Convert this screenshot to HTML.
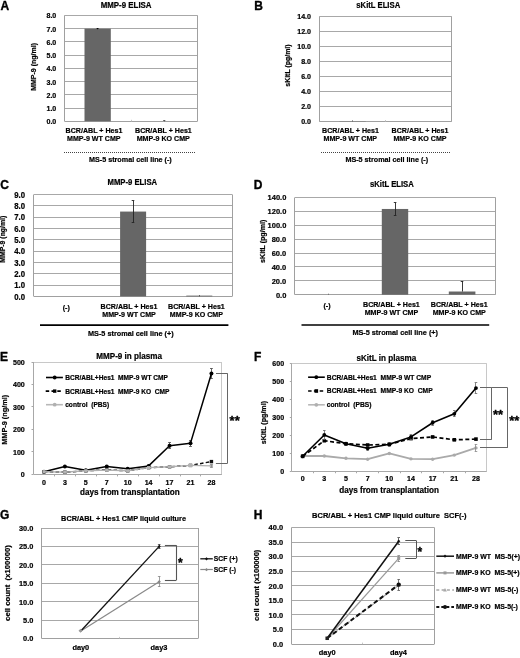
<!DOCTYPE html>
<html><head><meta charset="utf-8"><style>html,body{margin:0;padding:0;background:#fff;width:520px;height:658px;overflow:hidden}</style></head>
<body>
<svg width="520" height="658" viewBox="0 0 520 658" style="display:block;filter:blur(0.35px)">
<g font-family='"Liberation Sans", sans-serif' stroke-linejoin="round">
<rect width="520" height="658" fill="#fff"/>
<text transform="translate(0.60 9.70)" font-size="12" text-anchor="start" font-weight="bold" fill="#000" stroke="#000" stroke-width="0.35" xml:space="preserve">A</text>
<text transform="translate(56.30 124.25) scale(1 1.08)" font-size="7.1" text-anchor="end" font-weight="bold" fill="#000" stroke="#000" stroke-width="0.2" xml:space="preserve">0.0</text>
<line x1="64.50" y1="108.50" x2="197.50" y2="108.50" stroke="#a8a8a8" stroke-width="1.15" stroke-linecap="butt"/>
<text transform="translate(56.30 111.01) scale(1 1.08)" font-size="7.1" text-anchor="end" font-weight="bold" fill="#000" stroke="#000" stroke-width="0.2" xml:space="preserve">1.0</text>
<line x1="64.50" y1="94.50" x2="197.50" y2="94.50" stroke="#a8a8a8" stroke-width="1.15" stroke-linecap="butt"/>
<text transform="translate(56.30 97.78) scale(1 1.08)" font-size="7.1" text-anchor="end" font-weight="bold" fill="#000" stroke="#000" stroke-width="0.2" xml:space="preserve">2.0</text>
<line x1="64.50" y1="81.50" x2="197.50" y2="81.50" stroke="#a8a8a8" stroke-width="1.15" stroke-linecap="butt"/>
<text transform="translate(56.30 84.54) scale(1 1.08)" font-size="7.1" text-anchor="end" font-weight="bold" fill="#000" stroke="#000" stroke-width="0.2" xml:space="preserve">3.0</text>
<line x1="64.50" y1="68.50" x2="197.50" y2="68.50" stroke="#a8a8a8" stroke-width="1.15" stroke-linecap="butt"/>
<text transform="translate(56.30 71.30) scale(1 1.08)" font-size="7.1" text-anchor="end" font-weight="bold" fill="#000" stroke="#000" stroke-width="0.2" xml:space="preserve">4.0</text>
<line x1="64.50" y1="55.50" x2="197.50" y2="55.50" stroke="#a8a8a8" stroke-width="1.15" stroke-linecap="butt"/>
<text transform="translate(56.30 58.06) scale(1 1.08)" font-size="7.1" text-anchor="end" font-weight="bold" fill="#000" stroke="#000" stroke-width="0.2" xml:space="preserve">5.0</text>
<line x1="64.50" y1="41.50" x2="197.50" y2="41.50" stroke="#a8a8a8" stroke-width="1.15" stroke-linecap="butt"/>
<text transform="translate(56.30 44.83) scale(1 1.08)" font-size="7.1" text-anchor="end" font-weight="bold" fill="#000" stroke="#000" stroke-width="0.2" xml:space="preserve">6.0</text>
<line x1="64.50" y1="28.50" x2="197.50" y2="28.50" stroke="#a8a8a8" stroke-width="1.15" stroke-linecap="butt"/>
<text transform="translate(56.30 31.59) scale(1 1.08)" font-size="7.1" text-anchor="end" font-weight="bold" fill="#000" stroke="#000" stroke-width="0.2" xml:space="preserve">7.0</text>
<line x1="64.50" y1="15.50" x2="197.50" y2="15.50" stroke="#a8a8a8" stroke-width="1.15" stroke-linecap="butt"/>
<text transform="translate(56.30 18.35) scale(1 1.08)" font-size="7.1" text-anchor="end" font-weight="bold" fill="#000" stroke="#000" stroke-width="0.2" xml:space="preserve">8.0</text>
<line x1="64.50" y1="15.40" x2="64.50" y2="121.30" stroke="#a0a0a0" stroke-width="1" stroke-linecap="butt"/>
<line x1="197.50" y1="15.40" x2="197.50" y2="121.30" stroke="#a0a0a0" stroke-width="1" stroke-linecap="butt"/>
<line x1="64.50" y1="121.50" x2="197.50" y2="121.50" stroke="#a0a0a0" stroke-width="1" stroke-linecap="butt"/>
<line x1="131.50" y1="119.80" x2="131.50" y2="121.30" stroke="#c8c8c8" stroke-width="1" stroke-linecap="butt"/>
<text transform="translate(126.10 7.50) scale(1 1.08)" font-size="7.9" text-anchor="middle" font-weight="bold" fill="#000" stroke="#000" stroke-width="0.2" xml:space="preserve">MMP-9 ELISA</text>
<rect x="84.50" y="28.64" width="26.30" height="92.66" fill="#666666" stroke="none" stroke-width="1"/>
<line x1="97.50" y1="28.04" x2="97.50" y2="29.24" stroke="#000" stroke-width="0.8" stroke-linecap="butt"/>
<line x1="96.60" y1="28.50" x2="98.60" y2="28.50" stroke="#000" stroke-width="0.8" stroke-linecap="butt"/>
<line x1="164.50" y1="120.30" x2="164.50" y2="121.30" stroke="#444" stroke-width="0.9" stroke-linecap="butt"/>
<line x1="163.00" y1="120.50" x2="165.40" y2="120.50" stroke="#444" stroke-width="0.7" stroke-linecap="butt"/>
<text transform="translate(35.60 66.90) rotate(-90)" font-size="7.0" text-anchor="middle" font-weight="bold" fill="#000" stroke="#000" stroke-width="0.2" xml:space="preserve">MMP-9 (ng/ml)</text>
<text transform="translate(94.00 132.60) scale(1 1.08)" font-size="7.1" text-anchor="middle" font-weight="bold" fill="#000" stroke="#000" stroke-width="0.2" xml:space="preserve">BCR/ABL + Hes1</text>
<text transform="translate(93.80 141.10) scale(1 1.08)" font-size="7.1" text-anchor="middle" font-weight="bold" fill="#000" stroke="#000" stroke-width="0.2" xml:space="preserve">MMP-9 WT CMP</text>
<text transform="translate(163.40 132.60) scale(1 1.08)" font-size="7.1" text-anchor="middle" font-weight="bold" fill="#000" stroke="#000" stroke-width="0.2" xml:space="preserve">BCR/ABL + Hes1</text>
<text transform="translate(163.20 141.10) scale(1 1.08)" font-size="7.1" text-anchor="middle" font-weight="bold" fill="#000" stroke="#000" stroke-width="0.2" xml:space="preserve">MMP-9 KO CMP</text>
<line x1="64.00" y1="152.50" x2="195.00" y2="152.50" stroke="#444" stroke-width="1" stroke-dasharray="1,1" stroke-linecap="butt"/>
<text transform="translate(89.00 162.20) scale(1 1.08)" font-size="7.2" text-anchor="start" font-weight="bold" fill="#000" stroke="#000" stroke-width="0.2" xml:space="preserve">MS-5 stromal cell line (-)</text>
<text transform="translate(254.30 9.70)" font-size="12" text-anchor="start" font-weight="bold" fill="#000" stroke="#000" stroke-width="0.35" xml:space="preserve">B</text>
<text transform="translate(311.00 124.45) scale(1 1.08)" font-size="7.1" text-anchor="end" font-weight="bold" fill="#000" stroke="#000" stroke-width="0.2" xml:space="preserve">0.0</text>
<line x1="319.25" y1="106.50" x2="451.75" y2="106.50" stroke="#a8a8a8" stroke-width="1.15" stroke-linecap="butt"/>
<text transform="translate(311.00 109.45) scale(1 1.08)" font-size="7.1" text-anchor="end" font-weight="bold" fill="#000" stroke="#000" stroke-width="0.2" xml:space="preserve">2.0</text>
<line x1="319.25" y1="91.50" x2="451.75" y2="91.50" stroke="#a8a8a8" stroke-width="1.15" stroke-linecap="butt"/>
<text transform="translate(311.00 94.45) scale(1 1.08)" font-size="7.1" text-anchor="end" font-weight="bold" fill="#000" stroke="#000" stroke-width="0.2" xml:space="preserve">4.0</text>
<line x1="319.25" y1="76.50" x2="451.75" y2="76.50" stroke="#a8a8a8" stroke-width="1.15" stroke-linecap="butt"/>
<text transform="translate(311.00 79.45) scale(1 1.08)" font-size="7.1" text-anchor="end" font-weight="bold" fill="#000" stroke="#000" stroke-width="0.2" xml:space="preserve">6.0</text>
<line x1="319.25" y1="61.50" x2="451.75" y2="61.50" stroke="#a8a8a8" stroke-width="1.15" stroke-linecap="butt"/>
<text transform="translate(311.00 64.45) scale(1 1.08)" font-size="7.1" text-anchor="end" font-weight="bold" fill="#000" stroke="#000" stroke-width="0.2" xml:space="preserve">8.0</text>
<line x1="319.25" y1="46.50" x2="451.75" y2="46.50" stroke="#a8a8a8" stroke-width="1.15" stroke-linecap="butt"/>
<text transform="translate(311.00 49.45) scale(1 1.08)" font-size="7.1" text-anchor="end" font-weight="bold" fill="#000" stroke="#000" stroke-width="0.2" xml:space="preserve">10.0</text>
<line x1="319.25" y1="31.50" x2="451.75" y2="31.50" stroke="#a8a8a8" stroke-width="1.15" stroke-linecap="butt"/>
<text transform="translate(311.00 34.45) scale(1 1.08)" font-size="7.1" text-anchor="end" font-weight="bold" fill="#000" stroke="#000" stroke-width="0.2" xml:space="preserve">12.0</text>
<line x1="319.25" y1="16.50" x2="451.75" y2="16.50" stroke="#a8a8a8" stroke-width="1.15" stroke-linecap="butt"/>
<text transform="translate(311.00 19.45) scale(1 1.08)" font-size="7.1" text-anchor="end" font-weight="bold" fill="#000" stroke="#000" stroke-width="0.2" xml:space="preserve">14.0</text>
<line x1="319.50" y1="16.50" x2="319.50" y2="121.50" stroke="#a0a0a0" stroke-width="1" stroke-linecap="butt"/>
<line x1="451.50" y1="16.50" x2="451.50" y2="121.50" stroke="#a0a0a0" stroke-width="1" stroke-linecap="butt"/>
<line x1="319.25" y1="121.50" x2="451.75" y2="121.50" stroke="#a0a0a0" stroke-width="1" stroke-linecap="butt"/>
<line x1="385.50" y1="120.00" x2="385.50" y2="121.50" stroke="#c8c8c8" stroke-width="1" stroke-linecap="butt"/>
<text transform="translate(378.25 8.00) scale(1 1.08)" font-size="7.7" text-anchor="middle" font-weight="bold" fill="#000" stroke="#000" stroke-width="0.2" xml:space="preserve">sKitL ELISA</text>
<rect x="339.50" y="121.20" width="26.30" height="0.30" fill="#666666" stroke="none" stroke-width="1"/>
<line x1="352.50" y1="120.30" x2="352.50" y2="121.50" stroke="#555" stroke-width="0.8" stroke-linecap="butt"/>
<text transform="translate(289.50 65.60) rotate(-90)" font-size="6.95" text-anchor="middle" font-weight="bold" fill="#000" stroke="#000" stroke-width="0.2" xml:space="preserve">sKitL (pg/ml)</text>
<text transform="translate(350.50 132.60) scale(1 1.08)" font-size="7.1" text-anchor="middle" font-weight="bold" fill="#000" stroke="#000" stroke-width="0.2" xml:space="preserve">BCR/ABL + Hes1</text>
<text transform="translate(350.30 141.20) scale(1 1.08)" font-size="7.1" text-anchor="middle" font-weight="bold" fill="#000" stroke="#000" stroke-width="0.2" xml:space="preserve">MMP-9 WT CMP</text>
<text transform="translate(420.00 132.60) scale(1 1.08)" font-size="7.1" text-anchor="middle" font-weight="bold" fill="#000" stroke="#000" stroke-width="0.2" xml:space="preserve">BCR/ABL + Hes1</text>
<text transform="translate(420.00 141.20) scale(1 1.08)" font-size="7.1" text-anchor="middle" font-weight="bold" fill="#000" stroke="#000" stroke-width="0.2" xml:space="preserve">MMP-9 KO CMP</text>
<line x1="321.00" y1="152.50" x2="450.50" y2="152.50" stroke="#444" stroke-width="1" stroke-dasharray="1,1" stroke-linecap="butt"/>
<text transform="translate(345.40 162.40) scale(1 1.08)" font-size="7.2" text-anchor="start" font-weight="bold" fill="#000" stroke="#000" stroke-width="0.2" xml:space="preserve">MS-5 stromal cell line (-)</text>
<text transform="translate(0.20 189.30)" font-size="12" text-anchor="start" font-weight="bold" fill="#000" stroke="#000" stroke-width="0.35" xml:space="preserve">C</text>
<text transform="translate(25.00 299.50) scale(1 1.08)" font-size="7.8" text-anchor="end" font-weight="bold" fill="#000" stroke="#000" stroke-width="0.2" xml:space="preserve">0.0</text>
<line x1="33.80" y1="285.50" x2="232.30" y2="285.50" stroke="#a8a8a8" stroke-width="1.15" stroke-linecap="butt"/>
<text transform="translate(25.00 288.19) scale(1 1.08)" font-size="7.8" text-anchor="end" font-weight="bold" fill="#000" stroke="#000" stroke-width="0.2" xml:space="preserve">1.0</text>
<line x1="33.80" y1="273.50" x2="232.30" y2="273.50" stroke="#a8a8a8" stroke-width="1.15" stroke-linecap="butt"/>
<text transform="translate(25.00 276.88) scale(1 1.08)" font-size="7.8" text-anchor="end" font-weight="bold" fill="#000" stroke="#000" stroke-width="0.2" xml:space="preserve">2.0</text>
<line x1="33.80" y1="262.50" x2="232.30" y2="262.50" stroke="#a8a8a8" stroke-width="1.15" stroke-linecap="butt"/>
<text transform="translate(25.00 265.57) scale(1 1.08)" font-size="7.8" text-anchor="end" font-weight="bold" fill="#000" stroke="#000" stroke-width="0.2" xml:space="preserve">3.0</text>
<line x1="33.80" y1="251.50" x2="232.30" y2="251.50" stroke="#a8a8a8" stroke-width="1.15" stroke-linecap="butt"/>
<text transform="translate(25.00 254.26) scale(1 1.08)" font-size="7.8" text-anchor="end" font-weight="bold" fill="#000" stroke="#000" stroke-width="0.2" xml:space="preserve">4.0</text>
<line x1="33.80" y1="239.50" x2="232.30" y2="239.50" stroke="#a8a8a8" stroke-width="1.15" stroke-linecap="butt"/>
<text transform="translate(25.00 242.94) scale(1 1.08)" font-size="7.8" text-anchor="end" font-weight="bold" fill="#000" stroke="#000" stroke-width="0.2" xml:space="preserve">5.0</text>
<line x1="33.80" y1="228.50" x2="232.30" y2="228.50" stroke="#a8a8a8" stroke-width="1.15" stroke-linecap="butt"/>
<text transform="translate(25.00 231.63) scale(1 1.08)" font-size="7.8" text-anchor="end" font-weight="bold" fill="#000" stroke="#000" stroke-width="0.2" xml:space="preserve">6.0</text>
<line x1="33.80" y1="217.50" x2="232.30" y2="217.50" stroke="#a8a8a8" stroke-width="1.15" stroke-linecap="butt"/>
<text transform="translate(25.00 220.32) scale(1 1.08)" font-size="7.8" text-anchor="end" font-weight="bold" fill="#000" stroke="#000" stroke-width="0.2" xml:space="preserve">7.0</text>
<line x1="33.80" y1="205.50" x2="232.30" y2="205.50" stroke="#a8a8a8" stroke-width="1.15" stroke-linecap="butt"/>
<text transform="translate(25.00 209.01) scale(1 1.08)" font-size="7.8" text-anchor="end" font-weight="bold" fill="#000" stroke="#000" stroke-width="0.2" xml:space="preserve">8.0</text>
<line x1="33.80" y1="194.50" x2="232.30" y2="194.50" stroke="#a8a8a8" stroke-width="1.15" stroke-linecap="butt"/>
<text transform="translate(25.00 197.70) scale(1 1.08)" font-size="7.8" text-anchor="end" font-weight="bold" fill="#000" stroke="#000" stroke-width="0.2" xml:space="preserve">9.0</text>
<line x1="33.50" y1="194.60" x2="33.50" y2="296.40" stroke="#a0a0a0" stroke-width="1" stroke-linecap="butt"/>
<line x1="232.50" y1="194.60" x2="232.50" y2="296.40" stroke="#a0a0a0" stroke-width="1" stroke-linecap="butt"/>
<line x1="33.80" y1="296.50" x2="232.30" y2="296.50" stroke="#a0a0a0" stroke-width="1" stroke-linecap="butt"/>
<text transform="translate(132.30 185.40) scale(1 1.08)" font-size="7.7" text-anchor="middle" font-weight="bold" fill="#000" stroke="#000" stroke-width="0.2" xml:space="preserve">MMP-9 ELISA</text>
<rect x="120.10" y="211.57" width="26.00" height="84.83" fill="#666666" stroke="none" stroke-width="1"/>
<line x1="133.50" y1="200.93" x2="133.50" y2="222.20" stroke="#222" stroke-width="0.9" stroke-linecap="butt"/>
<line x1="131.70" y1="200.50" x2="134.30" y2="200.50" stroke="#222" stroke-width="0.9" stroke-linecap="butt"/>
<line x1="131.70" y1="222.50" x2="134.30" y2="222.50" stroke="#222" stroke-width="0.9" stroke-linecap="butt"/>
<rect x="186.30" y="295.61" width="26.00" height="0.79" fill="#666666" stroke="none" stroke-width="1"/>
<line x1="199.50" y1="295.04" x2="199.50" y2="296.40" stroke="#444" stroke-width="0.8" stroke-linecap="butt"/>
<text transform="translate(5.40 239.20) rotate(-90)" font-size="6.9" text-anchor="middle" font-weight="bold" fill="#000" stroke="#000" stroke-width="0.2" xml:space="preserve">MMP-9 (ng/ml)</text>
<text transform="translate(66.30 310.10) scale(1 1.08)" font-size="7.1" text-anchor="middle" font-weight="bold" fill="#000" stroke="#000" stroke-width="0.2" xml:space="preserve">(-)</text>
<text transform="translate(129.00 308.70) scale(1 1.08)" font-size="7.1" text-anchor="middle" font-weight="bold" fill="#000" stroke="#000" stroke-width="0.2" xml:space="preserve">BCR/ABL + Hes1</text>
<text transform="translate(129.00 317.00) scale(1 1.08)" font-size="7.1" text-anchor="middle" font-weight="bold" fill="#000" stroke="#000" stroke-width="0.2" xml:space="preserve">MMP-9 WT CMP</text>
<text transform="translate(196.40 308.70) scale(1 1.08)" font-size="7.1" text-anchor="middle" font-weight="bold" fill="#000" stroke="#000" stroke-width="0.2" xml:space="preserve">BCR/ABL + Hes1</text>
<text transform="translate(196.40 317.00) scale(1 1.08)" font-size="7.1" text-anchor="middle" font-weight="bold" fill="#000" stroke="#000" stroke-width="0.2" xml:space="preserve">MMP-9 KO CMP</text>
<line x1="40.00" y1="325.20" x2="228.40" y2="325.20" stroke="#000" stroke-width="1.7" stroke-linecap="butt"/>
<text transform="translate(88.00 335.60) scale(1 1.08)" font-size="7.3" text-anchor="start" font-weight="bold" fill="#000" stroke="#000" stroke-width="0.2" xml:space="preserve">MS-5 stromal cell line (+)</text>
<text transform="translate(253.80 189.30)" font-size="12" text-anchor="start" font-weight="bold" fill="#000" stroke="#000" stroke-width="0.35" xml:space="preserve">D</text>
<text transform="translate(286.30 297.50) scale(1 1.08)" font-size="7.5" text-anchor="end" font-weight="bold" fill="#000" stroke="#000" stroke-width="0.2" xml:space="preserve">0.0</text>
<line x1="294.90" y1="280.50" x2="495.60" y2="280.50" stroke="#a8a8a8" stroke-width="1.15" stroke-linecap="butt"/>
<text transform="translate(286.30 283.61) scale(1 1.08)" font-size="7.5" text-anchor="end" font-weight="bold" fill="#000" stroke="#000" stroke-width="0.2" xml:space="preserve">20.0</text>
<line x1="294.90" y1="266.50" x2="495.60" y2="266.50" stroke="#a8a8a8" stroke-width="1.15" stroke-linecap="butt"/>
<text transform="translate(286.30 269.73) scale(1 1.08)" font-size="7.5" text-anchor="end" font-weight="bold" fill="#000" stroke="#000" stroke-width="0.2" xml:space="preserve">40.0</text>
<line x1="294.90" y1="253.50" x2="495.60" y2="253.50" stroke="#a8a8a8" stroke-width="1.15" stroke-linecap="butt"/>
<text transform="translate(286.30 255.84) scale(1 1.08)" font-size="7.5" text-anchor="end" font-weight="bold" fill="#000" stroke="#000" stroke-width="0.2" xml:space="preserve">60.0</text>
<line x1="294.90" y1="239.50" x2="495.60" y2="239.50" stroke="#a8a8a8" stroke-width="1.15" stroke-linecap="butt"/>
<text transform="translate(286.30 241.96) scale(1 1.08)" font-size="7.5" text-anchor="end" font-weight="bold" fill="#000" stroke="#000" stroke-width="0.2" xml:space="preserve">80.0</text>
<line x1="294.90" y1="225.50" x2="495.60" y2="225.50" stroke="#a8a8a8" stroke-width="1.15" stroke-linecap="butt"/>
<text transform="translate(286.30 228.07) scale(1 1.08)" font-size="7.5" text-anchor="end" font-weight="bold" fill="#000" stroke="#000" stroke-width="0.2" xml:space="preserve">100.0</text>
<line x1="294.90" y1="211.50" x2="495.60" y2="211.50" stroke="#a8a8a8" stroke-width="1.15" stroke-linecap="butt"/>
<text transform="translate(286.30 214.19) scale(1 1.08)" font-size="7.5" text-anchor="end" font-weight="bold" fill="#000" stroke="#000" stroke-width="0.2" xml:space="preserve">120.0</text>
<line x1="294.90" y1="197.50" x2="495.60" y2="197.50" stroke="#a8a8a8" stroke-width="1.15" stroke-linecap="butt"/>
<text transform="translate(286.30 200.30) scale(1 1.08)" font-size="7.5" text-anchor="end" font-weight="bold" fill="#000" stroke="#000" stroke-width="0.2" xml:space="preserve">140.0</text>
<line x1="294.50" y1="197.50" x2="294.50" y2="294.70" stroke="#a0a0a0" stroke-width="1" stroke-linecap="butt"/>
<line x1="495.50" y1="197.50" x2="495.50" y2="294.70" stroke="#a0a0a0" stroke-width="1" stroke-linecap="butt"/>
<line x1="294.90" y1="294.50" x2="495.60" y2="294.50" stroke="#a0a0a0" stroke-width="1" stroke-linecap="butt"/>
<text transform="translate(391.85 186.90) scale(1 1.08)" font-size="7.7" text-anchor="middle" font-weight="bold" fill="#000" stroke="#000" stroke-width="0.2" xml:space="preserve">sKitL ELISA</text>
<rect x="381.80" y="208.96" width="26.40" height="85.74" fill="#666666" stroke="none" stroke-width="1"/>
<line x1="395.50" y1="202.71" x2="395.50" y2="215.20" stroke="#222" stroke-width="0.9" stroke-linecap="butt"/>
<line x1="393.80" y1="202.50" x2="396.40" y2="202.50" stroke="#222" stroke-width="0.9" stroke-linecap="butt"/>
<line x1="393.80" y1="215.50" x2="396.40" y2="215.50" stroke="#222" stroke-width="0.9" stroke-linecap="butt"/>
<rect x="448.80" y="291.51" width="26.60" height="3.19" fill="#666666" stroke="none" stroke-width="1"/>
<line x1="462.50" y1="281.02" x2="462.50" y2="291.51" stroke="#222" stroke-width="0.9" stroke-linecap="butt"/>
<line x1="460.70" y1="281.50" x2="463.30" y2="281.50" stroke="#222" stroke-width="0.9" stroke-linecap="butt"/>
<line x1="328.50" y1="293.70" x2="328.50" y2="294.70" stroke="#555" stroke-width="0.8" stroke-linecap="butt"/>
<text transform="translate(264.90 241.30) rotate(-90)" font-size="7.1" text-anchor="middle" font-weight="bold" fill="#000" stroke="#000" stroke-width="0.2" xml:space="preserve">sKitL (pg/ml)</text>
<text transform="translate(327.00 308.30) scale(1 1.08)" font-size="7.1" text-anchor="middle" font-weight="bold" fill="#000" stroke="#000" stroke-width="0.2" xml:space="preserve">(-)</text>
<text transform="translate(391.40 306.90) scale(1 1.08)" font-size="7.1" text-anchor="middle" font-weight="bold" fill="#000" stroke="#000" stroke-width="0.2" xml:space="preserve">BCR/ABL + Hes1</text>
<text transform="translate(391.40 315.40) scale(1 1.08)" font-size="7.1" text-anchor="middle" font-weight="bold" fill="#000" stroke="#000" stroke-width="0.2" xml:space="preserve">MMP-9 WT CMP</text>
<text transform="translate(459.20 306.90) scale(1 1.08)" font-size="7.1" text-anchor="middle" font-weight="bold" fill="#000" stroke="#000" stroke-width="0.2" xml:space="preserve">BCR/ABL + Hes1</text>
<text transform="translate(459.20 315.40) scale(1 1.08)" font-size="7.1" text-anchor="middle" font-weight="bold" fill="#000" stroke="#000" stroke-width="0.2" xml:space="preserve">MMP-9 KO CMP</text>
<line x1="301.50" y1="325.00" x2="489.20" y2="325.00" stroke="#000" stroke-width="1.7" stroke-linecap="butt"/>
<text transform="translate(352.40 335.30) scale(1 1.08)" font-size="7.3" text-anchor="start" font-weight="bold" fill="#000" stroke="#000" stroke-width="0.2" xml:space="preserve">MS-5 stromal cell line (+)</text>
<text transform="translate(0.00 361.20)" font-size="12" text-anchor="start" font-weight="bold" fill="#000" stroke="#000" stroke-width="0.35" xml:space="preserve">E</text>
<line x1="33.50" y1="362.50" x2="221.90" y2="362.50" stroke="#c8c8c8" stroke-width="1" stroke-linecap="butt"/>
<line x1="221.50" y1="362.00" x2="221.50" y2="474.40" stroke="#c8c8c8" stroke-width="1" stroke-linecap="butt"/>
<line x1="33.50" y1="362.00" x2="33.50" y2="474.40" stroke="#a8a8a8" stroke-width="1" stroke-linecap="butt"/>
<line x1="33.50" y1="474.50" x2="221.90" y2="474.50" stroke="#a8a8a8" stroke-width="1" stroke-linecap="butt"/>
<line x1="31.50" y1="474.50" x2="33.50" y2="474.50" stroke="#a8a8a8" stroke-width="1" stroke-linecap="butt"/>
<text transform="translate(24.80 477.35) scale(1 1.08)" font-size="7.1" text-anchor="end" font-weight="bold" fill="#000" stroke="#000" stroke-width="0.2" xml:space="preserve">0</text>
<line x1="31.50" y1="451.50" x2="33.50" y2="451.50" stroke="#a8a8a8" stroke-width="1" stroke-linecap="butt"/>
<text transform="translate(24.80 454.87) scale(1 1.08)" font-size="7.1" text-anchor="end" font-weight="bold" fill="#000" stroke="#000" stroke-width="0.2" xml:space="preserve">100</text>
<line x1="31.50" y1="429.50" x2="33.50" y2="429.50" stroke="#a8a8a8" stroke-width="1" stroke-linecap="butt"/>
<text transform="translate(24.80 432.39) scale(1 1.08)" font-size="7.1" text-anchor="end" font-weight="bold" fill="#000" stroke="#000" stroke-width="0.2" xml:space="preserve">200</text>
<line x1="31.50" y1="406.50" x2="33.50" y2="406.50" stroke="#a8a8a8" stroke-width="1" stroke-linecap="butt"/>
<text transform="translate(24.80 409.91) scale(1 1.08)" font-size="7.1" text-anchor="end" font-weight="bold" fill="#000" stroke="#000" stroke-width="0.2" xml:space="preserve">300</text>
<line x1="31.50" y1="384.50" x2="33.50" y2="384.50" stroke="#a8a8a8" stroke-width="1" stroke-linecap="butt"/>
<text transform="translate(24.80 387.43) scale(1 1.08)" font-size="7.1" text-anchor="end" font-weight="bold" fill="#000" stroke="#000" stroke-width="0.2" xml:space="preserve">400</text>
<line x1="31.50" y1="362.50" x2="33.50" y2="362.50" stroke="#a8a8a8" stroke-width="1" stroke-linecap="butt"/>
<text transform="translate(24.80 364.95) scale(1 1.08)" font-size="7.1" text-anchor="end" font-weight="bold" fill="#000" stroke="#000" stroke-width="0.2" xml:space="preserve">500</text>
<line x1="54.50" y1="474.40" x2="54.50" y2="476.40" stroke="#a8a8a8" stroke-width="1" stroke-linecap="butt"/>
<line x1="75.50" y1="474.40" x2="75.50" y2="476.40" stroke="#a8a8a8" stroke-width="1" stroke-linecap="butt"/>
<line x1="96.50" y1="474.40" x2="96.50" y2="476.40" stroke="#a8a8a8" stroke-width="1" stroke-linecap="butt"/>
<line x1="117.50" y1="474.40" x2="117.50" y2="476.40" stroke="#a8a8a8" stroke-width="1" stroke-linecap="butt"/>
<line x1="138.50" y1="474.40" x2="138.50" y2="476.40" stroke="#a8a8a8" stroke-width="1" stroke-linecap="butt"/>
<line x1="159.50" y1="474.40" x2="159.50" y2="476.40" stroke="#a8a8a8" stroke-width="1" stroke-linecap="butt"/>
<line x1="180.50" y1="474.40" x2="180.50" y2="476.40" stroke="#a8a8a8" stroke-width="1" stroke-linecap="butt"/>
<line x1="200.50" y1="474.40" x2="200.50" y2="476.40" stroke="#a8a8a8" stroke-width="1" stroke-linecap="butt"/>
<text transform="translate(43.97 485.30) scale(1 1.08)" font-size="7.1" text-anchor="middle" font-weight="bold" fill="#000" stroke="#000" stroke-width="0.2" xml:space="preserve">0</text>
<text transform="translate(64.90 485.30) scale(1 1.08)" font-size="7.1" text-anchor="middle" font-weight="bold" fill="#000" stroke="#000" stroke-width="0.2" xml:space="preserve">3</text>
<text transform="translate(85.83 485.30) scale(1 1.08)" font-size="7.1" text-anchor="middle" font-weight="bold" fill="#000" stroke="#000" stroke-width="0.2" xml:space="preserve">5</text>
<text transform="translate(106.77 485.30) scale(1 1.08)" font-size="7.1" text-anchor="middle" font-weight="bold" fill="#000" stroke="#000" stroke-width="0.2" xml:space="preserve">7</text>
<text transform="translate(127.70 485.30) scale(1 1.08)" font-size="7.1" text-anchor="middle" font-weight="bold" fill="#000" stroke="#000" stroke-width="0.2" xml:space="preserve">10</text>
<text transform="translate(148.63 485.30) scale(1 1.08)" font-size="7.1" text-anchor="middle" font-weight="bold" fill="#000" stroke="#000" stroke-width="0.2" xml:space="preserve">14</text>
<text transform="translate(169.57 485.30) scale(1 1.08)" font-size="7.1" text-anchor="middle" font-weight="bold" fill="#000" stroke="#000" stroke-width="0.2" xml:space="preserve">17</text>
<text transform="translate(190.50 485.30) scale(1 1.08)" font-size="7.1" text-anchor="middle" font-weight="bold" fill="#000" stroke="#000" stroke-width="0.2" xml:space="preserve">21</text>
<text transform="translate(211.43 485.30) scale(1 1.08)" font-size="7.1" text-anchor="middle" font-weight="bold" fill="#000" stroke="#000" stroke-width="0.2" xml:space="preserve">28</text>
<text transform="translate(80.00 495.30)" font-size="8.15" text-anchor="start" font-weight="bold" fill="#000" stroke="#000" stroke-width="0.2" xml:space="preserve">days from transplantation</text>
<text transform="translate(129.10 358.80) scale(1 1.08)" font-size="8.1" text-anchor="middle" font-weight="bold" fill="#000" stroke="#000" stroke-width="0.2" xml:space="preserve">MMP-9 in plasma</text>
<text transform="translate(6.50 419.80) rotate(-90)" font-size="7.3" text-anchor="middle" font-weight="bold" fill="#000" stroke="#000" stroke-width="0.2" xml:space="preserve">MMP-9 (ng/ml)</text>
<line x1="169.50" y1="442.70" x2="169.50" y2="448.77" stroke="#555" stroke-width="0.9" stroke-linecap="butt"/>
<line x1="168.17" y1="442.50" x2="170.97" y2="442.50" stroke="#555" stroke-width="0.9" stroke-linecap="butt"/>
<line x1="168.17" y1="448.50" x2="170.97" y2="448.50" stroke="#555" stroke-width="0.9" stroke-linecap="butt"/>
<line x1="190.50" y1="440.23" x2="190.50" y2="446.08" stroke="#555" stroke-width="0.9" stroke-linecap="butt"/>
<line x1="189.10" y1="440.50" x2="191.90" y2="440.50" stroke="#555" stroke-width="0.9" stroke-linecap="butt"/>
<line x1="189.10" y1="446.50" x2="191.90" y2="446.50" stroke="#555" stroke-width="0.9" stroke-linecap="butt"/>
<line x1="211.50" y1="368.29" x2="211.50" y2="378.64" stroke="#555" stroke-width="0.9" stroke-linecap="butt"/>
<line x1="210.03" y1="368.50" x2="212.83" y2="368.50" stroke="#555" stroke-width="0.9" stroke-linecap="butt"/>
<line x1="210.03" y1="378.50" x2="212.83" y2="378.50" stroke="#555" stroke-width="0.9" stroke-linecap="butt"/>
<polyline points="43.97,471.70 64.90,466.40 85.83,470.35 106.77,466.60 127.70,468.78 148.63,465.90 169.57,445.67 190.50,443.15 211.43,373.46" fill="none" stroke="#000" stroke-width="1.5" stroke-linejoin="round"/>
<circle cx="43.97" cy="471.70" r="2.0" fill="#000" stroke="none" stroke-width="0.8"/>
<circle cx="64.90" cy="466.40" r="2.0" fill="#000" stroke="none" stroke-width="0.8"/>
<circle cx="85.83" cy="470.35" r="2.0" fill="#000" stroke="none" stroke-width="0.8"/>
<circle cx="106.77" cy="466.60" r="2.0" fill="#000" stroke="none" stroke-width="0.8"/>
<circle cx="127.70" cy="468.78" r="2.0" fill="#000" stroke="none" stroke-width="0.8"/>
<circle cx="148.63" cy="465.90" r="2.0" fill="#000" stroke="none" stroke-width="0.8"/>
<circle cx="169.57" cy="445.67" r="2.0" fill="#000" stroke="none" stroke-width="0.8"/>
<circle cx="190.50" cy="443.15" r="2.0" fill="#000" stroke="none" stroke-width="0.8"/>
<circle cx="211.43" cy="373.46" r="2.0" fill="#000" stroke="none" stroke-width="0.8"/>
<polyline points="43.97,471.70 64.90,472.15 85.83,470.80 106.77,469.90 127.70,470.80 148.63,467.66 169.57,466.76 190.50,465.41 211.43,461.59" fill="none" stroke="#111" stroke-width="1.5" stroke-dasharray="3.5,2.3" stroke-linejoin="round"/>
<rect x="42.27" y="470.00" width="3.40" height="3.40" fill="#111" stroke="none" stroke-width="1"/>
<rect x="63.20" y="470.45" width="3.40" height="3.40" fill="#111" stroke="none" stroke-width="1"/>
<rect x="84.13" y="469.10" width="3.40" height="3.40" fill="#111" stroke="none" stroke-width="1"/>
<rect x="105.07" y="468.20" width="3.40" height="3.40" fill="#111" stroke="none" stroke-width="1"/>
<rect x="126.00" y="469.10" width="3.40" height="3.40" fill="#111" stroke="none" stroke-width="1"/>
<rect x="146.93" y="465.96" width="3.40" height="3.40" fill="#111" stroke="none" stroke-width="1"/>
<rect x="167.87" y="465.06" width="3.40" height="3.40" fill="#111" stroke="none" stroke-width="1"/>
<rect x="188.80" y="463.71" width="3.40" height="3.40" fill="#111" stroke="none" stroke-width="1"/>
<rect x="209.73" y="459.89" width="3.40" height="3.40" fill="#111" stroke="none" stroke-width="1"/>
<polyline points="43.97,471.70 64.90,472.15 85.83,470.80 106.77,470.13 127.70,470.80 148.63,467.66 169.57,466.76 190.50,465.41" fill="none" stroke="#b0b0b0" stroke-width="1.4" stroke-linejoin="round"/>
<rect x="42.37" y="470.10" width="3.20" height="3.20" fill="#b4b4b4" stroke="none" stroke-width="1"/>
<rect x="63.30" y="470.55" width="3.20" height="3.20" fill="#b4b4b4" stroke="none" stroke-width="1"/>
<rect x="84.23" y="469.20" width="3.20" height="3.20" fill="#b4b4b4" stroke="none" stroke-width="1"/>
<rect x="105.17" y="468.53" width="3.20" height="3.20" fill="#b4b4b4" stroke="none" stroke-width="1"/>
<rect x="126.10" y="469.20" width="3.20" height="3.20" fill="#b4b4b4" stroke="none" stroke-width="1"/>
<rect x="147.03" y="466.06" width="3.20" height="3.20" fill="#b4b4b4" stroke="none" stroke-width="1"/>
<rect x="167.97" y="465.16" width="3.20" height="3.20" fill="#b4b4b4" stroke="none" stroke-width="1"/>
<rect x="188.90" y="463.81" width="3.20" height="3.20" fill="#b4b4b4" stroke="none" stroke-width="1"/>
<polyline points="190.50,465.41 211.43,465.86" fill="none" stroke="#b0b0b0" stroke-width="1.4" stroke-linejoin="round"/>
<rect x="209.83" y="464.26" width="3.20" height="3.20" fill="#b4b4b4" stroke="none" stroke-width="1"/>
<line x1="211.50" y1="464.51" x2="211.50" y2="467.21" stroke="#888" stroke-width="0.8" stroke-linecap="butt"/>
<line x1="210.13" y1="464.50" x2="212.73" y2="464.50" stroke="#888" stroke-width="0.8" stroke-linecap="butt"/>
<line x1="210.13" y1="467.50" x2="212.73" y2="467.50" stroke="#888" stroke-width="0.8" stroke-linecap="butt"/>
<line x1="216.00" y1="373.50" x2="227.60" y2="373.50" stroke="#666" stroke-width="1" stroke-linecap="butt"/>
<line x1="227.50" y1="373.40" x2="227.50" y2="463.20" stroke="#666" stroke-width="1" stroke-linecap="butt"/>
<line x1="215.90" y1="463.50" x2="227.60" y2="463.50" stroke="#666" stroke-width="1" stroke-linecap="butt"/>
<text transform="translate(229.60 425.30)" font-size="13" text-anchor="start" font-weight="bold" fill="#000" stroke="#000" stroke-width="0.35" xml:space="preserve">**</text>
<line x1="46.00" y1="377.50" x2="62.90" y2="377.50" stroke="#000" stroke-width="1.6" stroke-linecap="butt"/>
<circle cx="54.70" cy="377.50" r="1.9" fill="#000" stroke="none" stroke-width="0.8"/>
<line x1="45.70" y1="391.10" x2="62.90" y2="391.10" stroke="#000" stroke-width="1.6" stroke-dasharray="3.5,2.3" stroke-linecap="butt"/>
<rect x="53.00" y="389.40" width="3.40" height="3.40" fill="#000" stroke="none" stroke-width="1"/>
<line x1="46.00" y1="404.70" x2="62.90" y2="404.70" stroke="#b8b8b8" stroke-width="1.6" stroke-linecap="butt"/>
<circle cx="54.70" cy="404.70" r="1.9" fill="#b0b0b0" stroke="none" stroke-width="0.8"/>
<text transform="translate(65.20 379.90) scale(1 1.08)" font-size="6.6" text-anchor="start" font-weight="bold" fill="#000" stroke="#000" stroke-width="0.2" xml:space="preserve">BCR/ABL+Hes1  MMP-9 WT CMP</text>
<text transform="translate(65.20 393.50) scale(1 1.08)" font-size="6.6" text-anchor="start" font-weight="bold" fill="#000" stroke="#000" stroke-width="0.2" xml:space="preserve">BCR/ABL+Hes1  MMP-9 KO  CMP</text>
<text transform="translate(65.20 407.10) scale(1 1.08)" font-size="6.6" text-anchor="start" font-weight="bold" fill="#000" stroke="#000" stroke-width="0.2" xml:space="preserve">control  (PBS)</text>
<text transform="translate(254.00 361.30)" font-size="12" text-anchor="start" font-weight="bold" fill="#000" stroke="#000" stroke-width="0.35" xml:space="preserve">F</text>
<line x1="291.80" y1="363.50" x2="486.80" y2="363.50" stroke="#c8c8c8" stroke-width="1" stroke-linecap="butt"/>
<line x1="486.50" y1="363.50" x2="486.50" y2="471.25" stroke="#c8c8c8" stroke-width="1" stroke-linecap="butt"/>
<line x1="291.50" y1="363.50" x2="291.50" y2="471.25" stroke="#a8a8a8" stroke-width="1" stroke-linecap="butt"/>
<line x1="291.80" y1="471.50" x2="486.80" y2="471.50" stroke="#a8a8a8" stroke-width="1" stroke-linecap="butt"/>
<line x1="289.80" y1="471.50" x2="291.80" y2="471.50" stroke="#a8a8a8" stroke-width="1" stroke-linecap="butt"/>
<text transform="translate(284.10 474.00) scale(1 1.08)" font-size="7.1" text-anchor="end" font-weight="bold" fill="#000" stroke="#000" stroke-width="0.2" xml:space="preserve">0</text>
<line x1="289.80" y1="453.50" x2="291.80" y2="453.50" stroke="#a8a8a8" stroke-width="1" stroke-linecap="butt"/>
<text transform="translate(284.10 456.04) scale(1 1.08)" font-size="7.1" text-anchor="end" font-weight="bold" fill="#000" stroke="#000" stroke-width="0.2" xml:space="preserve">100</text>
<line x1="289.80" y1="435.50" x2="291.80" y2="435.50" stroke="#a8a8a8" stroke-width="1" stroke-linecap="butt"/>
<text transform="translate(284.10 438.08) scale(1 1.08)" font-size="7.1" text-anchor="end" font-weight="bold" fill="#000" stroke="#000" stroke-width="0.2" xml:space="preserve">200</text>
<line x1="289.80" y1="417.50" x2="291.80" y2="417.50" stroke="#a8a8a8" stroke-width="1" stroke-linecap="butt"/>
<text transform="translate(284.10 420.12) scale(1 1.08)" font-size="7.1" text-anchor="end" font-weight="bold" fill="#000" stroke="#000" stroke-width="0.2" xml:space="preserve">300</text>
<line x1="289.80" y1="399.50" x2="291.80" y2="399.50" stroke="#a8a8a8" stroke-width="1" stroke-linecap="butt"/>
<text transform="translate(284.10 402.17) scale(1 1.08)" font-size="7.1" text-anchor="end" font-weight="bold" fill="#000" stroke="#000" stroke-width="0.2" xml:space="preserve">400</text>
<line x1="289.80" y1="381.50" x2="291.80" y2="381.50" stroke="#a8a8a8" stroke-width="1" stroke-linecap="butt"/>
<text transform="translate(284.10 384.21) scale(1 1.08)" font-size="7.1" text-anchor="end" font-weight="bold" fill="#000" stroke="#000" stroke-width="0.2" xml:space="preserve">500</text>
<line x1="289.80" y1="363.50" x2="291.80" y2="363.50" stroke="#a8a8a8" stroke-width="1" stroke-linecap="butt"/>
<text transform="translate(284.10 366.25) scale(1 1.08)" font-size="7.1" text-anchor="end" font-weight="bold" fill="#000" stroke="#000" stroke-width="0.2" xml:space="preserve">600</text>
<line x1="313.50" y1="471.25" x2="313.50" y2="473.25" stroke="#a8a8a8" stroke-width="1" stroke-linecap="butt"/>
<line x1="335.50" y1="471.25" x2="335.50" y2="473.25" stroke="#a8a8a8" stroke-width="1" stroke-linecap="butt"/>
<line x1="356.50" y1="471.25" x2="356.50" y2="473.25" stroke="#a8a8a8" stroke-width="1" stroke-linecap="butt"/>
<line x1="378.50" y1="471.25" x2="378.50" y2="473.25" stroke="#a8a8a8" stroke-width="1" stroke-linecap="butt"/>
<line x1="400.50" y1="471.25" x2="400.50" y2="473.25" stroke="#a8a8a8" stroke-width="1" stroke-linecap="butt"/>
<line x1="421.50" y1="471.25" x2="421.50" y2="473.25" stroke="#a8a8a8" stroke-width="1" stroke-linecap="butt"/>
<line x1="443.50" y1="471.25" x2="443.50" y2="473.25" stroke="#a8a8a8" stroke-width="1" stroke-linecap="butt"/>
<line x1="465.50" y1="471.25" x2="465.50" y2="473.25" stroke="#a8a8a8" stroke-width="1" stroke-linecap="butt"/>
<text transform="translate(302.63 481.40) scale(1 1.08)" font-size="7.1" text-anchor="middle" font-weight="bold" fill="#000" stroke="#000" stroke-width="0.2" xml:space="preserve">0</text>
<text transform="translate(324.30 481.40) scale(1 1.08)" font-size="7.1" text-anchor="middle" font-weight="bold" fill="#000" stroke="#000" stroke-width="0.2" xml:space="preserve">3</text>
<text transform="translate(345.97 481.40) scale(1 1.08)" font-size="7.1" text-anchor="middle" font-weight="bold" fill="#000" stroke="#000" stroke-width="0.2" xml:space="preserve">5</text>
<text transform="translate(367.63 481.40) scale(1 1.08)" font-size="7.1" text-anchor="middle" font-weight="bold" fill="#000" stroke="#000" stroke-width="0.2" xml:space="preserve">7</text>
<text transform="translate(389.30 481.40) scale(1 1.08)" font-size="7.1" text-anchor="middle" font-weight="bold" fill="#000" stroke="#000" stroke-width="0.2" xml:space="preserve">10</text>
<text transform="translate(410.97 481.40) scale(1 1.08)" font-size="7.1" text-anchor="middle" font-weight="bold" fill="#000" stroke="#000" stroke-width="0.2" xml:space="preserve">14</text>
<text transform="translate(432.63 481.40) scale(1 1.08)" font-size="7.1" text-anchor="middle" font-weight="bold" fill="#000" stroke="#000" stroke-width="0.2" xml:space="preserve">17</text>
<text transform="translate(454.30 481.40) scale(1 1.08)" font-size="7.1" text-anchor="middle" font-weight="bold" fill="#000" stroke="#000" stroke-width="0.2" xml:space="preserve">21</text>
<text transform="translate(475.97 481.40) scale(1 1.08)" font-size="7.1" text-anchor="middle" font-weight="bold" fill="#000" stroke="#000" stroke-width="0.2" xml:space="preserve">28</text>
<text transform="translate(339.20 493.30)" font-size="8.15" text-anchor="start" font-weight="bold" fill="#000" stroke="#000" stroke-width="0.2" xml:space="preserve">days from transplantation</text>
<text transform="translate(386.35 361.20) scale(1 1.08)" font-size="8.1" text-anchor="middle" font-weight="bold" fill="#000" stroke="#000" stroke-width="0.2" xml:space="preserve">sKitL in plasma</text>
<text transform="translate(266.00 422.60) rotate(-90)" font-size="7.1" text-anchor="middle" font-weight="bold" fill="#000" stroke="#000" stroke-width="0.2" xml:space="preserve">sKitL (pg/ml)</text>
<polyline points="302.63,455.99 324.30,455.99 345.97,458.32 367.63,459.22 389.30,453.47 410.97,458.86 432.63,459.22 454.30,455.09 475.97,447.90" fill="none" stroke="#aaaaaa" stroke-width="1.8" stroke-linejoin="round"/>
<circle cx="302.63" cy="455.99" r="1.7" fill="#aaaaaa" stroke="none" stroke-width="0.8"/>
<circle cx="324.30" cy="455.99" r="1.7" fill="#aaaaaa" stroke="none" stroke-width="0.8"/>
<circle cx="345.97" cy="458.32" r="1.7" fill="#aaaaaa" stroke="none" stroke-width="0.8"/>
<circle cx="367.63" cy="459.22" r="1.7" fill="#aaaaaa" stroke="none" stroke-width="0.8"/>
<circle cx="389.30" cy="453.47" r="1.7" fill="#aaaaaa" stroke="none" stroke-width="0.8"/>
<circle cx="410.97" cy="458.86" r="1.7" fill="#aaaaaa" stroke="none" stroke-width="0.8"/>
<circle cx="432.63" cy="459.22" r="1.7" fill="#aaaaaa" stroke="none" stroke-width="0.8"/>
<circle cx="454.30" cy="455.09" r="1.7" fill="#aaaaaa" stroke="none" stroke-width="0.8"/>
<circle cx="475.97" cy="447.90" r="1.7" fill="#aaaaaa" stroke="none" stroke-width="0.8"/>
<polyline points="302.63,456.34 324.30,440.72 345.97,443.77 367.63,445.03 389.30,444.31 410.97,438.57 432.63,436.95 454.30,439.82 475.97,439.10" fill="none" stroke="#000" stroke-width="1.7" stroke-dasharray="4,2.5" stroke-linejoin="round"/>
<rect x="300.83" y="454.54" width="3.60" height="3.60" fill="#000" stroke="none" stroke-width="1"/>
<rect x="322.50" y="438.92" width="3.60" height="3.60" fill="#000" stroke="none" stroke-width="1"/>
<rect x="344.17" y="441.97" width="3.60" height="3.60" fill="#000" stroke="none" stroke-width="1"/>
<rect x="365.83" y="443.23" width="3.60" height="3.60" fill="#000" stroke="none" stroke-width="1"/>
<rect x="387.50" y="442.51" width="3.60" height="3.60" fill="#000" stroke="none" stroke-width="1"/>
<rect x="409.17" y="436.77" width="3.60" height="3.60" fill="#000" stroke="none" stroke-width="1"/>
<rect x="430.83" y="435.15" width="3.60" height="3.60" fill="#000" stroke="none" stroke-width="1"/>
<rect x="452.50" y="438.02" width="3.60" height="3.60" fill="#000" stroke="none" stroke-width="1"/>
<rect x="474.17" y="437.30" width="3.60" height="3.60" fill="#000" stroke="none" stroke-width="1"/>
<line x1="302.50" y1="455.36" x2="302.50" y2="457.15" stroke="#666" stroke-width="0.8" stroke-linecap="butt"/>
<line x1="301.33" y1="455.50" x2="303.93" y2="455.50" stroke="#666" stroke-width="0.8" stroke-linecap="butt"/>
<line x1="301.33" y1="457.50" x2="303.93" y2="457.50" stroke="#666" stroke-width="0.8" stroke-linecap="butt"/>
<line x1="324.50" y1="430.48" x2="324.50" y2="439.46" stroke="#666" stroke-width="0.8" stroke-linecap="butt"/>
<line x1="323.00" y1="430.50" x2="325.60" y2="430.50" stroke="#666" stroke-width="0.8" stroke-linecap="butt"/>
<line x1="323.00" y1="439.50" x2="325.60" y2="439.50" stroke="#666" stroke-width="0.8" stroke-linecap="butt"/>
<line x1="345.50" y1="442.34" x2="345.50" y2="445.21" stroke="#666" stroke-width="0.8" stroke-linecap="butt"/>
<line x1="344.67" y1="442.50" x2="347.27" y2="442.50" stroke="#666" stroke-width="0.8" stroke-linecap="butt"/>
<line x1="344.67" y1="445.50" x2="347.27" y2="445.50" stroke="#666" stroke-width="0.8" stroke-linecap="butt"/>
<line x1="367.50" y1="446.11" x2="367.50" y2="450.42" stroke="#666" stroke-width="0.8" stroke-linecap="butt"/>
<line x1="366.33" y1="446.50" x2="368.93" y2="446.50" stroke="#666" stroke-width="0.8" stroke-linecap="butt"/>
<line x1="366.33" y1="450.50" x2="368.93" y2="450.50" stroke="#666" stroke-width="0.8" stroke-linecap="butt"/>
<line x1="389.50" y1="442.52" x2="389.50" y2="446.11" stroke="#666" stroke-width="0.8" stroke-linecap="butt"/>
<line x1="388.00" y1="442.50" x2="390.60" y2="442.50" stroke="#666" stroke-width="0.8" stroke-linecap="butt"/>
<line x1="388.00" y1="446.50" x2="390.60" y2="446.50" stroke="#666" stroke-width="0.8" stroke-linecap="butt"/>
<line x1="410.50" y1="434.79" x2="410.50" y2="439.10" stroke="#666" stroke-width="0.8" stroke-linecap="butt"/>
<line x1="409.67" y1="434.50" x2="412.27" y2="434.50" stroke="#666" stroke-width="0.8" stroke-linecap="butt"/>
<line x1="409.67" y1="439.50" x2="412.27" y2="439.50" stroke="#666" stroke-width="0.8" stroke-linecap="butt"/>
<line x1="432.50" y1="420.07" x2="432.50" y2="425.46" stroke="#666" stroke-width="0.8" stroke-linecap="butt"/>
<line x1="431.33" y1="420.50" x2="433.93" y2="420.50" stroke="#666" stroke-width="0.8" stroke-linecap="butt"/>
<line x1="431.33" y1="425.50" x2="433.93" y2="425.50" stroke="#666" stroke-width="0.8" stroke-linecap="butt"/>
<line x1="454.50" y1="410.73" x2="454.50" y2="416.84" stroke="#666" stroke-width="0.8" stroke-linecap="butt"/>
<line x1="453.00" y1="410.50" x2="455.60" y2="410.50" stroke="#666" stroke-width="0.8" stroke-linecap="butt"/>
<line x1="453.00" y1="416.50" x2="455.60" y2="416.50" stroke="#666" stroke-width="0.8" stroke-linecap="butt"/>
<line x1="475.50" y1="382.89" x2="475.50" y2="393.31" stroke="#666" stroke-width="0.8" stroke-linecap="butt"/>
<line x1="474.67" y1="382.50" x2="477.27" y2="382.50" stroke="#666" stroke-width="0.8" stroke-linecap="butt"/>
<line x1="474.67" y1="393.50" x2="477.27" y2="393.50" stroke="#666" stroke-width="0.8" stroke-linecap="butt"/>
<polyline points="302.63,456.25 324.30,434.97 345.97,443.77 367.63,448.26 389.30,444.31 410.97,436.95 432.63,422.76 454.30,413.78 475.97,388.10" fill="none" stroke="#000" stroke-width="1.6" stroke-linejoin="round"/>
<circle cx="302.63" cy="456.25" r="1.9" fill="#000" stroke="none" stroke-width="0.8"/>
<circle cx="324.30" cy="434.97" r="1.9" fill="#000" stroke="none" stroke-width="0.8"/>
<circle cx="345.97" cy="443.77" r="1.9" fill="#000" stroke="none" stroke-width="0.8"/>
<circle cx="367.63" cy="448.26" r="1.9" fill="#000" stroke="none" stroke-width="0.8"/>
<circle cx="389.30" cy="444.31" r="1.9" fill="#000" stroke="none" stroke-width="0.8"/>
<circle cx="410.97" cy="436.95" r="1.9" fill="#000" stroke="none" stroke-width="0.8"/>
<circle cx="432.63" cy="422.76" r="1.9" fill="#000" stroke="none" stroke-width="0.8"/>
<circle cx="454.30" cy="413.78" r="1.9" fill="#000" stroke="none" stroke-width="0.8"/>
<circle cx="475.97" cy="388.10" r="1.9" fill="#000" stroke="none" stroke-width="0.8"/>
<line x1="475.50" y1="444.31" x2="475.50" y2="451.50" stroke="#888" stroke-width="0.8" stroke-linecap="butt"/>
<line x1="474.67" y1="444.50" x2="477.27" y2="444.50" stroke="#888" stroke-width="0.8" stroke-linecap="butt"/>
<line x1="474.67" y1="451.50" x2="477.27" y2="451.50" stroke="#888" stroke-width="0.8" stroke-linecap="butt"/>
<line x1="480.00" y1="387.50" x2="491.80" y2="387.50" stroke="#666" stroke-width="1" stroke-linecap="butt"/>
<line x1="491.50" y1="387.50" x2="491.50" y2="439.20" stroke="#666" stroke-width="1" stroke-linecap="butt"/>
<line x1="480.00" y1="439.50" x2="491.80" y2="439.50" stroke="#666" stroke-width="1" stroke-linecap="butt"/>
<line x1="491.80" y1="387.50" x2="507.40" y2="387.50" stroke="#666" stroke-width="1" stroke-linecap="butt"/>
<line x1="507.50" y1="387.50" x2="507.50" y2="447.90" stroke="#666" stroke-width="1" stroke-linecap="butt"/>
<line x1="480.00" y1="447.50" x2="507.40" y2="447.50" stroke="#666" stroke-width="1" stroke-linecap="butt"/>
<text transform="translate(493.00 419.30)" font-size="13" text-anchor="start" font-weight="bold" fill="#000" stroke="#000" stroke-width="0.35" xml:space="preserve">**</text>
<text transform="translate(509.20 425.00)" font-size="13" text-anchor="start" font-weight="bold" fill="#000" stroke="#000" stroke-width="0.35" xml:space="preserve">**</text>
<line x1="308.10" y1="377.20" x2="324.80" y2="377.20" stroke="#000" stroke-width="1.6" stroke-linecap="butt"/>
<circle cx="316.30" cy="377.20" r="1.9" fill="#000" stroke="none" stroke-width="0.8"/>
<line x1="308.10" y1="391.00" x2="324.80" y2="391.00" stroke="#000" stroke-width="1.7" stroke-dasharray="3.5,2.3" stroke-linecap="butt"/>
<rect x="314.50" y="389.20" width="3.60" height="3.60" fill="#000" stroke="none" stroke-width="1"/>
<line x1="308.10" y1="404.80" x2="324.80" y2="404.80" stroke="#b8b8b8" stroke-width="1.6" stroke-linecap="butt"/>
<circle cx="316.30" cy="404.80" r="1.9" fill="#b0b0b0" stroke="none" stroke-width="0.8"/>
<text transform="translate(326.80 379.60) scale(1 1.08)" font-size="6.7" text-anchor="start" font-weight="bold" fill="#000" stroke="#000" stroke-width="0.2" xml:space="preserve">BCR/ABL+Hes1  MMP-9 WT CMP</text>
<text transform="translate(326.80 393.40) scale(1 1.08)" font-size="6.7" text-anchor="start" font-weight="bold" fill="#000" stroke="#000" stroke-width="0.2" xml:space="preserve">BCR/ABL+Hes1  MMP-9 KO  CMP</text>
<text transform="translate(326.80 407.20) scale(1 1.08)" font-size="6.7" text-anchor="start" font-weight="bold" fill="#000" stroke="#000" stroke-width="0.2" xml:space="preserve">control  (PBS)</text>
<text transform="translate(0.00 519.30)" font-size="12" text-anchor="start" font-weight="bold" fill="#000" stroke="#000" stroke-width="0.35" xml:space="preserve">G</text>
<text transform="translate(33.30 641.35) scale(1 1.08)" font-size="7.4" text-anchor="end" font-weight="bold" fill="#000" stroke="#000" stroke-width="0.2" xml:space="preserve">0.0</text>
<line x1="41.50" y1="620.50" x2="198.30" y2="620.50" stroke="#a8a8a8" stroke-width="1" stroke-linecap="butt"/>
<text transform="translate(33.30 622.95) scale(1 1.08)" font-size="7.4" text-anchor="end" font-weight="bold" fill="#000" stroke="#000" stroke-width="0.2" xml:space="preserve">5.0</text>
<line x1="41.50" y1="601.50" x2="198.30" y2="601.50" stroke="#a8a8a8" stroke-width="1" stroke-linecap="butt"/>
<text transform="translate(33.30 604.55) scale(1 1.08)" font-size="7.4" text-anchor="end" font-weight="bold" fill="#000" stroke="#000" stroke-width="0.2" xml:space="preserve">10.0</text>
<line x1="41.50" y1="583.50" x2="198.30" y2="583.50" stroke="#a8a8a8" stroke-width="1" stroke-linecap="butt"/>
<text transform="translate(33.30 586.15) scale(1 1.08)" font-size="7.4" text-anchor="end" font-weight="bold" fill="#000" stroke="#000" stroke-width="0.2" xml:space="preserve">15.0</text>
<line x1="41.50" y1="564.50" x2="198.30" y2="564.50" stroke="#a8a8a8" stroke-width="1" stroke-linecap="butt"/>
<text transform="translate(33.30 567.75) scale(1 1.08)" font-size="7.4" text-anchor="end" font-weight="bold" fill="#000" stroke="#000" stroke-width="0.2" xml:space="preserve">20.0</text>
<line x1="41.50" y1="546.50" x2="198.30" y2="546.50" stroke="#a8a8a8" stroke-width="1" stroke-linecap="butt"/>
<text transform="translate(33.30 549.35) scale(1 1.08)" font-size="7.4" text-anchor="end" font-weight="bold" fill="#000" stroke="#000" stroke-width="0.2" xml:space="preserve">25.0</text>
<line x1="41.50" y1="528.50" x2="198.30" y2="528.50" stroke="#a8a8a8" stroke-width="1" stroke-linecap="butt"/>
<text transform="translate(33.30 530.95) scale(1 1.08)" font-size="7.4" text-anchor="end" font-weight="bold" fill="#000" stroke="#000" stroke-width="0.2" xml:space="preserve">30.0</text>
<line x1="41.50" y1="528.00" x2="41.50" y2="638.40" stroke="#a0a0a0" stroke-width="1" stroke-linecap="butt"/>
<line x1="198.50" y1="528.00" x2="198.50" y2="638.40" stroke="#a0a0a0" stroke-width="1" stroke-linecap="butt"/>
<line x1="41.50" y1="638.50" x2="198.30" y2="638.50" stroke="#a0a0a0" stroke-width="1" stroke-linecap="butt"/>
<line x1="119.50" y1="636.90" x2="119.50" y2="638.40" stroke="#c8c8c8" stroke-width="1" stroke-linecap="butt"/>
<text transform="translate(123.55 521.00) scale(1 1.08)" font-size="7.35" text-anchor="middle" font-weight="bold" fill="#000" stroke="#000" stroke-width="0.2" xml:space="preserve">BCR/ABL + Hes1 CMP liquid culture</text>
<text transform="translate(10.20 583.00) rotate(-90)" font-size="7.75" text-anchor="middle" font-weight="bold" fill="#000" stroke="#000" stroke-width="0.2" xml:space="preserve">cell count  (x100000)</text>
<text transform="translate(80.80 649.80)" font-size="7.4" text-anchor="middle" font-weight="bold" fill="#000" stroke="#000" stroke-width="0.2" xml:space="preserve">day0</text>
<text transform="translate(159.00 649.80)" font-size="7.4" text-anchor="middle" font-weight="bold" fill="#000" stroke="#000" stroke-width="0.2" xml:space="preserve">day3</text>
<line x1="80.80" y1="631.04" x2="159.20" y2="581.73" stroke="#888888" stroke-width="1.2" stroke-linecap="butt"/>
<line x1="80.80" y1="631.04" x2="159.20" y2="546.40" stroke="#111" stroke-width="1.3" stroke-linecap="butt"/>
<line x1="159.50" y1="576.21" x2="159.50" y2="586.88" stroke="#888" stroke-width="0.8" stroke-linecap="butt"/>
<line x1="157.90" y1="576.50" x2="160.50" y2="576.50" stroke="#888" stroke-width="0.8" stroke-linecap="butt"/>
<line x1="157.90" y1="586.50" x2="160.50" y2="586.50" stroke="#888" stroke-width="0.8" stroke-linecap="butt"/>
<line x1="159.50" y1="544.19" x2="159.50" y2="548.61" stroke="#444" stroke-width="0.8" stroke-linecap="butt"/>
<line x1="157.90" y1="544.50" x2="160.50" y2="544.50" stroke="#444" stroke-width="0.8" stroke-linecap="butt"/>
<line x1="157.90" y1="548.50" x2="160.50" y2="548.50" stroke="#444" stroke-width="0.8" stroke-linecap="butt"/>
<polygon points="159.20,580.03 160.90,581.73 159.20,583.43 157.50,581.73" fill="#888"/>
<polygon points="159.20,544.80 160.80,546.40 159.20,548.00 157.60,546.40" fill="#111"/>
<polygon points="80.50,628.67 82.50,630.67 80.50,632.67 78.50,630.67" fill="#999"/>
<line x1="164.90" y1="545.50" x2="176.40" y2="545.50" stroke="#555" stroke-width="1.1" stroke-linecap="butt"/>
<line x1="176.50" y1="545.30" x2="176.50" y2="580.10" stroke="#555" stroke-width="1.1" stroke-linecap="butt"/>
<line x1="164.90" y1="580.50" x2="176.40" y2="580.50" stroke="#555" stroke-width="1.1" stroke-linecap="butt"/>
<text transform="translate(178.00 567.20)" font-size="12" text-anchor="start" font-weight="bold" fill="#000" stroke="#000" stroke-width="0.35" xml:space="preserve">*</text>
<line x1="200.30" y1="558.80" x2="212.80" y2="558.80" stroke="#111" stroke-width="1.3" stroke-linecap="butt"/>
<polygon points="206.50,557.20 208.10,558.80 206.50,560.40 204.90,558.80" fill="#111"/>
<line x1="200.30" y1="569.50" x2="212.80" y2="569.50" stroke="#888" stroke-width="1.2" stroke-linecap="butt"/>
<polygon points="206.50,568.10 208.10,569.70 206.50,571.30 204.90,569.70" fill="#888"/>
<text transform="translate(213.70 561.20) scale(1 1.08)" font-size="6.8" text-anchor="start" font-weight="bold" fill="#000" stroke="#000" stroke-width="0.2" xml:space="preserve">SCF (+)</text>
<text transform="translate(213.70 572.10) scale(1 1.08)" font-size="6.8" text-anchor="start" font-weight="bold" fill="#000" stroke="#000" stroke-width="0.2" xml:space="preserve">SCF (-)</text>
<text transform="translate(253.80 519.30)" font-size="12" text-anchor="start" font-weight="bold" fill="#000" stroke="#000" stroke-width="0.35" xml:space="preserve">H</text>
<text transform="translate(283.10 646.85) scale(1 1.08)" font-size="7.45" text-anchor="end" font-weight="bold" fill="#000" stroke="#000" stroke-width="0.2" xml:space="preserve">0.0</text>
<line x1="291.50" y1="629.50" x2="434.40" y2="629.50" stroke="#a8a8a8" stroke-width="1" stroke-linecap="butt"/>
<text transform="translate(283.10 632.27) scale(1 1.08)" font-size="7.45" text-anchor="end" font-weight="bold" fill="#000" stroke="#000" stroke-width="0.2" xml:space="preserve">5.0</text>
<line x1="291.50" y1="614.50" x2="434.40" y2="614.50" stroke="#a8a8a8" stroke-width="1" stroke-linecap="butt"/>
<text transform="translate(283.10 617.70) scale(1 1.08)" font-size="7.45" text-anchor="end" font-weight="bold" fill="#000" stroke="#000" stroke-width="0.2" xml:space="preserve">10.0</text>
<line x1="291.50" y1="600.50" x2="434.40" y2="600.50" stroke="#a8a8a8" stroke-width="1" stroke-linecap="butt"/>
<text transform="translate(283.10 603.12) scale(1 1.08)" font-size="7.45" text-anchor="end" font-weight="bold" fill="#000" stroke="#000" stroke-width="0.2" xml:space="preserve">15.0</text>
<line x1="291.50" y1="585.50" x2="434.40" y2="585.50" stroke="#a8a8a8" stroke-width="1" stroke-linecap="butt"/>
<text transform="translate(283.10 588.55) scale(1 1.08)" font-size="7.45" text-anchor="end" font-weight="bold" fill="#000" stroke="#000" stroke-width="0.2" xml:space="preserve">20.0</text>
<line x1="291.50" y1="571.50" x2="434.40" y2="571.50" stroke="#a8a8a8" stroke-width="1" stroke-linecap="butt"/>
<text transform="translate(283.10 573.98) scale(1 1.08)" font-size="7.45" text-anchor="end" font-weight="bold" fill="#000" stroke="#000" stroke-width="0.2" xml:space="preserve">25.0</text>
<line x1="291.50" y1="556.50" x2="434.40" y2="556.50" stroke="#a8a8a8" stroke-width="1" stroke-linecap="butt"/>
<text transform="translate(283.10 559.40) scale(1 1.08)" font-size="7.45" text-anchor="end" font-weight="bold" fill="#000" stroke="#000" stroke-width="0.2" xml:space="preserve">30.0</text>
<line x1="291.50" y1="542.50" x2="434.40" y2="542.50" stroke="#a8a8a8" stroke-width="1" stroke-linecap="butt"/>
<text transform="translate(283.10 544.83) scale(1 1.08)" font-size="7.45" text-anchor="end" font-weight="bold" fill="#000" stroke="#000" stroke-width="0.2" xml:space="preserve">35.0</text>
<line x1="291.50" y1="527.50" x2="434.40" y2="527.50" stroke="#a8a8a8" stroke-width="1" stroke-linecap="butt"/>
<text transform="translate(283.10 530.25) scale(1 1.08)" font-size="7.45" text-anchor="end" font-weight="bold" fill="#000" stroke="#000" stroke-width="0.2" xml:space="preserve">40.0</text>
<line x1="291.50" y1="527.50" x2="291.50" y2="644.10" stroke="#a0a0a0" stroke-width="1" stroke-linecap="butt"/>
<line x1="434.50" y1="527.50" x2="434.50" y2="644.10" stroke="#a0a0a0" stroke-width="1" stroke-linecap="butt"/>
<line x1="291.50" y1="644.50" x2="434.40" y2="644.50" stroke="#a0a0a0" stroke-width="1" stroke-linecap="butt"/>
<line x1="362.50" y1="642.60" x2="362.50" y2="644.10" stroke="#c8c8c8" stroke-width="1" stroke-linecap="butt"/>
<text transform="translate(389.30 518.40) scale(1 1.08)" font-size="7.5" text-anchor="middle" font-weight="bold" fill="#000" stroke="#000" stroke-width="0.2" xml:space="preserve">BCR/ABL + Hes1 CMP liquid culture  SCF(-)</text>
<text transform="translate(259.30 585.30) rotate(-90)" font-size="7.5" text-anchor="middle" font-weight="bold" fill="#000" stroke="#000" stroke-width="0.2" xml:space="preserve">cell count (x100000)</text>
<text transform="translate(327.20 655.00)" font-size="7.4" text-anchor="middle" font-weight="bold" fill="#000" stroke="#000" stroke-width="0.2" xml:space="preserve">day0</text>
<text transform="translate(398.50 655.00)" font-size="7.4" text-anchor="middle" font-weight="bold" fill="#000" stroke="#000" stroke-width="0.2" xml:space="preserve">day4</text>
<line x1="327.20" y1="638.27" x2="398.70" y2="585.22" stroke="#a8a8a8" stroke-width="1.3" stroke-dasharray="3,2" stroke-linecap="butt"/>
<line x1="327.20" y1="638.27" x2="398.70" y2="558.40" stroke="#999999" stroke-width="1.2" stroke-linecap="butt"/>
<line x1="327.20" y1="638.27" x2="398.70" y2="541.20" stroke="#111" stroke-width="1.5" stroke-linecap="butt"/>
<line x1="327.20" y1="638.27" x2="398.70" y2="584.63" stroke="#111" stroke-width="2.0" stroke-dasharray="4.5,2.8" stroke-linecap="butt"/>
<line x1="398.50" y1="537.99" x2="398.50" y2="544.12" stroke="#444" stroke-width="0.8" stroke-linecap="butt"/>
<line x1="397.40" y1="537.50" x2="400.00" y2="537.50" stroke="#444" stroke-width="0.8" stroke-linecap="butt"/>
<line x1="397.40" y1="544.50" x2="400.00" y2="544.50" stroke="#444" stroke-width="0.8" stroke-linecap="butt"/>
<line x1="398.50" y1="555.78" x2="398.50" y2="561.90" stroke="#888" stroke-width="0.8" stroke-linecap="butt"/>
<line x1="397.40" y1="555.50" x2="400.00" y2="555.50" stroke="#888" stroke-width="0.8" stroke-linecap="butt"/>
<line x1="397.40" y1="561.50" x2="400.00" y2="561.50" stroke="#888" stroke-width="0.8" stroke-linecap="butt"/>
<line x1="398.50" y1="579.39" x2="398.50" y2="590.17" stroke="#555" stroke-width="0.8" stroke-linecap="butt"/>
<line x1="397.40" y1="579.50" x2="400.00" y2="579.50" stroke="#555" stroke-width="0.8" stroke-linecap="butt"/>
<line x1="397.40" y1="590.50" x2="400.00" y2="590.50" stroke="#555" stroke-width="0.8" stroke-linecap="butt"/>
<polygon points="398.70,539.60 400.30,541.20 398.70,542.80 397.10,541.20" fill="#111"/>
<rect x="397.20" y="556.90" width="3.00" height="3.00" fill="#999" stroke="none" stroke-width="1"/>
<circle cx="398.70" cy="584.63" r="2.2" fill="#111" stroke="none" stroke-width="0.8"/>
<rect x="325.45" y="636.52" width="3.50" height="3.50" fill="#222" stroke="none" stroke-width="1"/>
<line x1="405.30" y1="540.50" x2="416.40" y2="540.50" stroke="#555" stroke-width="1" stroke-linecap="butt"/>
<line x1="416.50" y1="540.70" x2="416.50" y2="558.00" stroke="#555" stroke-width="1" stroke-linecap="butt"/>
<line x1="405.30" y1="558.50" x2="416.40" y2="558.50" stroke="#555" stroke-width="1" stroke-linecap="butt"/>
<text transform="translate(417.60 555.60)" font-size="12" text-anchor="start" font-weight="bold" fill="#000" stroke="#000" stroke-width="0.35" xml:space="preserve">*</text>
<line x1="436.30" y1="556.20" x2="454.00" y2="556.20" stroke="#111" stroke-width="1.5" stroke-linecap="butt"/>
<polygon points="445.00,554.60 446.60,556.20 445.00,557.80 443.40,556.20" fill="#111"/>
<line x1="436.30" y1="572.90" x2="454.00" y2="572.90" stroke="#999" stroke-width="1.5" stroke-linecap="butt"/>
<rect x="443.50" y="571.40" width="3.00" height="3.00" fill="#999" stroke="none" stroke-width="1"/>
<line x1="436.30" y1="590.00" x2="454.00" y2="590.00" stroke="#a8a8a8" stroke-width="1.5" stroke-dasharray="3,2.3" stroke-linecap="butt"/>
<polygon points="445.00,588.10 446.90,591.52 443.10,591.52" fill="#a8a8a8"/>
<line x1="436.30" y1="606.90" x2="454.00" y2="606.90" stroke="#111" stroke-width="2.0" stroke-dasharray="3,2" stroke-linecap="butt"/>
<circle cx="445.00" cy="606.90" r="2.0" fill="#111" stroke="none" stroke-width="0.8"/>
<text transform="translate(455.90 558.60) scale(1 1.08)" font-size="6.95" text-anchor="start" font-weight="bold" fill="#000" stroke="#000" stroke-width="0.2" xml:space="preserve">MMP-9 WT  MS-5(+)</text>
<text transform="translate(455.90 575.30) scale(1 1.08)" font-size="6.95" text-anchor="start" font-weight="bold" fill="#000" stroke="#000" stroke-width="0.2" xml:space="preserve">MMP-9 KO  MS-5(+)</text>
<text transform="translate(455.90 592.40) scale(1 1.08)" font-size="6.95" text-anchor="start" font-weight="bold" fill="#000" stroke="#000" stroke-width="0.2" xml:space="preserve">MMP-9 WT  MS-5(-)</text>
<text transform="translate(455.90 609.30) scale(1 1.08)" font-size="6.95" text-anchor="start" font-weight="bold" fill="#000" stroke="#000" stroke-width="0.2" xml:space="preserve">MMP-9 KO  MS-5(-)</text>
</g></svg>
</body></html>
